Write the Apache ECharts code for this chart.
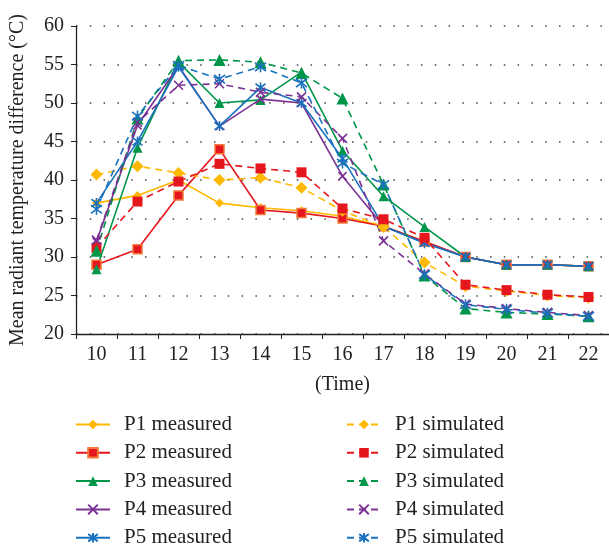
<!DOCTYPE html>
<html>
<head>
<meta charset="utf-8">
<script src="https://cdn.jsdelivr.net/npm/echarts@6/dist/echarts.min.js"></script>
<style>
  html, body { margin: 0; padding: 0; background: #fff; }
  #chart { width: 609px; height: 548px; }
</style>
</head>
<body>
<div id="chart"></div>
<script>
const hours = ['10', '11', '12', '13', '14', '15', '16', '17', '18', '19', '20', '21', '22']

const p1Measured = [37.0, 38.0, 40.0, 37.0, 36.4, 36.0, 35.3, 34.0, 32.0, 30.0, 29.0, 29.0, 28.8]
const p1Simulated = [40.7, 41.8, 40.9, 40.0, 40.3, 39.0, 36.0, 33.9, 29.3, 26.2, 25.6, 25.0, 24.7]
const p2Measured = [29.0, 31.0, 38.0, 44.0, 36.1, 35.7, 35.0, 34.0, 32.0, 30.0, 29.0, 29.0, 28.8]
const p2Simulated = [31.2, 37.2, 39.8, 42.1, 41.5, 41.0, 36.3, 34.9, 32.5, 26.4, 25.7, 25.1, 24.8]
const p3Measured = [28.4, 44.2, 55.3, 50.0, 50.4, 54.0, 43.8, 37.9, 33.9, 30.0, 29.0, 29.0, 28.8]
const p3Simulated = [30.8, 48.0, 55.5, 55.6, 55.3, 53.9, 50.6, 39.4, 27.6, 23.3, 22.8, 22.6, 22.3]
const p4Measured = [32.0, 47.1, 54.8, 47.0, 50.5, 50.0, 40.5, 34.0, 31.9, 30.0, 29.0, 29.0, 28.8]
const p4Simulated = [32.2, 47.5, 52.3, 52.5, 51.4, 50.8, 45.4, 32.1, 27.8, 23.9, 23.3, 22.8, 22.4]
const p5Measured = [37.0, 45.0, 54.7, 47.0, 52.0, 50.0, 42.8, 34.0, 31.8, 30.0, 29.0, 29.0, 28.8]
const p5Simulated = [36.2, 48.3, 54.9, 53.1, 54.7, 52.6, 42.2, 39.4, 27.7, 23.8, 23.2, 22.7, 22.3]

const FONT = '"Liberation Serif", "DejaVu Serif", serif'
const YELLOW = '#FFB800'
const RED = '#E5161D'
const GREEN = '#00964A'
const PURPLE = '#7B3294'
const BLUE = '#1A72BE'

const X_PATH = 'path://M0,0L10,10M10,0L0,10'
const STAR_PATH = 'path://M0,0L10,10M10,0L0,10M5,-1.5L5,11.5'

function lineSeries(name, data, color, dashed, symbol, size, extra) {
  const stroked = symbol.startsWith('path://')
  return {
    name,
    type: 'line',
    data,
    symbol,
    symbolSize: size,
    lineStyle: { color, width: 1.6, type: dashed ? [7, 5] : 'solid' },
    itemStyle: stroked
      ? { color: 'transparent', borderColor: color, borderWidth: 1.6 }
      : Object.assign({ color }, extra || {}),
    emphasis: { disabled: true },
    animation: false,
  }
}

const series = [
  lineSeries('P1 measured', p1Measured, YELLOW, false, 'diamond', 9),
  lineSeries('P2 measured', p2Measured, RED, false, 'rect', 9, { borderColor: '#F27A3A', borderWidth: 1.5 }),
  lineSeries('P3 measured', p3Measured, GREEN, false, 'triangle', 10),
  lineSeries('P4 measured', p4Measured, PURPLE, false, X_PATH, 8),
  lineSeries('P5 measured', p5Measured, BLUE, false, STAR_PATH, 10),
  lineSeries('P1 simulated', p1Simulated, YELLOW, true, 'diamond', 12),
  lineSeries('P2 simulated', p2Simulated, RED, true, 'rect', 10),
  lineSeries('P3 simulated', p3Simulated, GREEN, true, 'triangle', 12),
  lineSeries('P4 simulated', p4Simulated, PURPLE, true, X_PATH, 9),
  lineSeries('P5 simulated', p5Simulated, BLUE, true, STAR_PATH, 11),
]

// legend rows are ~28px apart; the text box (~21px) sets the item height
const legendBase = {
  orient: 'vertical',
  top: 414,
  height: 300,
  padding: 0,
  itemWidth: 34,
  itemHeight: 12,
  itemGap: 7.3,
  textStyle: { fontFamily: FONT, fontSize: 21, color: '#222', padding: [0, 0, 0, 9] },
}

const chart = echarts.init(document.getElementById('chart'))
chart.setOption({
  animation: false,
  grid: { left: 74, top: 26, width: 543, bottom: 214 },
  legend: [
    Object.assign({}, legendBase, { left: 75, data: series.slice(0, 5).map(s => s.name) }),
    Object.assign({}, legendBase, { left: 346, data: series.slice(5).map(s => s.name) }),
  ],
  xAxis: {
    type: 'category',
    data: hours,
    boundaryGap: true,
    name: '(Time)',
    nameLocation: 'middle',
    nameGap: 41,
    nameTextStyle: { fontFamily: FONT, fontSize: 20, color: '#222' },
    axisLine: { lineStyle: { color: '#222', width: 1.3 } },
    axisTick: { show: true, length: 5, lineStyle: { color: '#222' } },
    axisLabel: { fontFamily: FONT, fontSize: 20, color: '#222', margin: 11 },
    splitLine: { show: false },
  },
  yAxis: {
    type: 'value',
    min: 20,
    max: 60,
    interval: 5,
    name: 'Mean radiant temperature difference (°C)',
    nameLocation: 'middle',
    nameGap: 48,
    nameTextStyle: { fontFamily: FONT, fontSize: 20, color: '#222' },
    axisLine: { show: true, lineStyle: { color: '#222', width: 1.3 } },
    axisTick: { show: true, length: 5, lineStyle: { color: '#222' } },
    axisLabel: { fontFamily: FONT, fontSize: 20, color: '#222', margin: 12 },
    splitLine: { show: true, lineStyle: { color: '#444', width: 1.5, type: [1.5, 12.3] } },
  },
  series,
})
</script>
</body>
</html>
